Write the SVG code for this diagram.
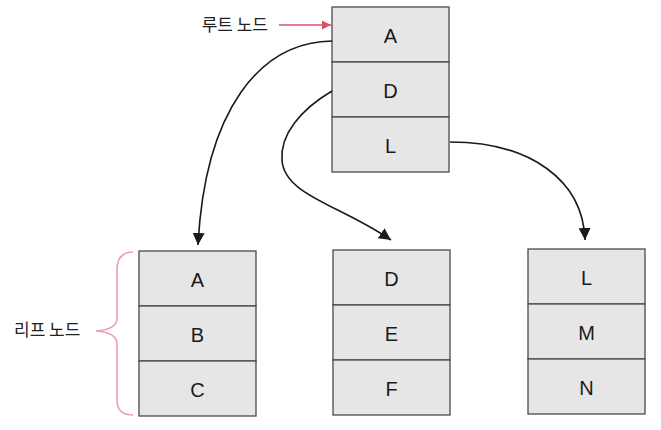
<svg xmlns="http://www.w3.org/2000/svg" width="661" height="430" viewBox="0 0 661 430">
<defs>
<style>
.cell{fill:#e6e6e6;stroke:#4a4a4a;stroke-width:1.3}
.lt{font-family:"Liberation Sans","DejaVu Sans",sans-serif;font-size:20px;fill:#1a1a1a;text-anchor:middle;dominant-baseline:central}
.kr{font-family:"Noto Sans CJK KR","Noto Sans",sans-serif;font-size:17px;fill:#222}
.conn{fill:none;stroke:#1a1a1a;stroke-width:1.6}
</style>
<marker id="ah" viewBox="0 0 10 10" refX="10" refY="5" markerUnits="userSpaceOnUse" markerWidth="12" markerHeight="12" orient="auto">
<path d="M0,0 L10,5 L0,10 z" fill="#1a1a1a"/>
</marker>
<marker id="ahr" viewBox="0 0 10 10" refX="10" refY="5" markerUnits="userSpaceOnUse" markerWidth="9" markerHeight="9" orient="auto">
<path d="M0,0 L10,5 L0,10 z" fill="#d9506a"/>
</marker>
</defs>
<rect width="661" height="430" fill="#ffffff"/>

<g id="root">
<rect class="cell" x="332" y="7" width="117" height="55"/>
<rect class="cell" x="332" y="62" width="117" height="55"/>
<rect class="cell" x="332" y="117" width="117" height="55"/>
<text class="lt" x="390.5" y="36">A</text>
<text class="lt" x="390.5" y="91">D</text>
<text class="lt" x="390.5" y="146">L</text>
</g>

<g id="leaf1">
<rect class="cell" x="139" y="251" width="117" height="55"/>
<rect class="cell" x="139" y="306" width="117" height="55"/>
<rect class="cell" x="139" y="361" width="117" height="55"/>
<text class="lt" x="197.5" y="280">A</text>
<text class="lt" x="197.5" y="335">B</text>
<text class="lt" x="197.5" y="390">C</text>
</g>

<g id="leaf2">
<rect class="cell" x="333" y="250" width="117" height="55"/>
<rect class="cell" x="333" y="305" width="117" height="55"/>
<rect class="cell" x="333" y="360" width="117" height="55"/>
<text class="lt" x="391.5" y="279">D</text>
<text class="lt" x="391.5" y="334">E</text>
<text class="lt" x="391.5" y="389">F</text>
</g>

<g id="leaf3">
<rect class="cell" x="528" y="249" width="117" height="55"/>
<rect class="cell" x="528" y="304" width="117" height="55"/>
<rect class="cell" x="528" y="359" width="117" height="55"/>
<text class="lt" x="586.5" y="278">L</text>
<text class="lt" x="586.5" y="333">M</text>
<text class="lt" x="586.5" y="388">N</text>
</g>

<g id="root-label">
<text class="kr" x="268" y="31" text-anchor="end">루트 노드</text>
</g>

<g id="leaf-label">
<text class="kr" x="14" y="336">리프 노드</text>
</g>

<g id="connectors">
<path class="conn" d="M332,41 C260,42 205,110 198,245" marker-end="url(#ah)"/>
<path class="conn" d="M332,91 C300,110 280,135 282,160 C284,195 340,205 391,240" marker-end="url(#ah)"/>
<path class="conn" d="M450,142 C530,142 583,180 585,240" marker-end="url(#ah)"/>
<path d="M279,25 L331,25" fill="none" stroke="#d9506a" stroke-width="1.5" marker-end="url(#ahr)"/>
<path d="M133,252 C122,252 117,258 117,270 L117,318 C117,326 110,330 96,331 C110,332 117,336 117,344 L117,400 C117,410 122,415 133,415" fill="none" stroke="#e8a3af" stroke-width="1.6"/>
</g>
</svg>
